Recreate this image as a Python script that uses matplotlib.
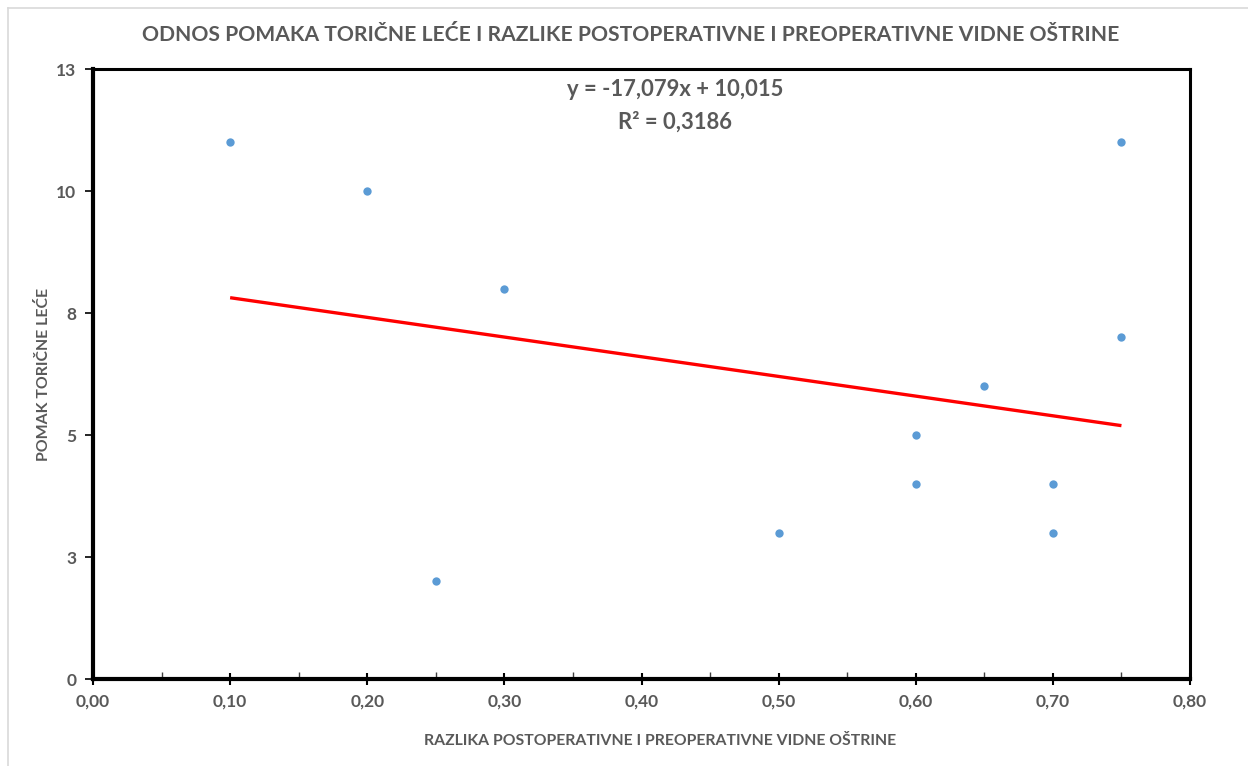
import numpy as np
import matplotlib
matplotlib.use("Agg")
import matplotlib.pyplot as plt
from matplotlib.ticker import MultipleLocator, FuncFormatter
from matplotlib.lines import Line2D
import math

# Data
x_vals = [0.10, 0.20, 0.30, 0.25, 0.50, 0.60, 0.60, 0.65, 0.70, 0.70, 0.75, 0.75]
y_vals = [11, 10, 8, 2, 3, 5, 4, 6, 4, 3, 11, 7]
title = "ODNOS POMAKA TORIČNE LEĆE I RAZLIKE POSTOPERATIVNE I PREOPERATIVNE VIDNE OŠTRINE"
xlabel = "RAZLIKA POSTOPERATIVNE I PREOPERATIVNE VIDNE OŠTRINE"
ylabel = "POMAK TORIČNE LEĆE"
eq_line1 = "y = -17,079x + 10,015"
eq_line2 = "R² = 0,3186"

TXT = "#595959"
plt.rcParams['font.family'] = ['Lato', 'DejaVu Sans']
plt.rcParams['font.weight'] = 'bold'

fig = plt.figure(figsize=(12.48, 7.66), dpi=100)
ax = fig.add_axes([93/1248, 1-679/766, (1190-93)/1248, (679-69)/766])

ax.scatter(x_vals, y_vals, s=36, color="#5B9BD5", zorder=3, linewidths=0)

xa = np.array(x_vals); ya = np.array(y_vals)
m, b = np.polyfit(xa, ya, 1)
xl = np.array([xa.min(), xa.max()])
ax.plot(xl, m*xl + b, color="#FF0000", lw=2.4, zorder=2, solid_capstyle='butt')

ax.set_xlim(0, 0.8)
ax.set_ylim(0, 12.5)
ax.xaxis.set_major_locator(MultipleLocator(0.1))
ax.xaxis.set_minor_locator(MultipleLocator(0.05))
ax.yaxis.set_major_locator(MultipleLocator(2.5))

def yfmt(v, pos):
    return str(int(math.floor(v + 0.5 + 1e-9)))
ax.yaxis.set_major_formatter(FuncFormatter(yfmt))
ax.xaxis.set_major_formatter(FuncFormatter(lambda v, p: f"{v:.2f}".replace('.', ',')))

for s in ['left', 'bottom']:
    ax.spines[s].set_linewidth(3)
    ax.spines[s].set_color('black')
for s in ['top', 'right']:
    ax.spines[s].set_linewidth(2.2)
    ax.spines[s].set_color('black')

ax.tick_params(axis='x', which='major', direction='inout', length=9, width=1.5, color='black',
               labelsize=12.5, labelcolor=TXT, pad=6)
ax.tick_params(axis='x', which='minor', direction='in', length=5, width=1.0, color='#404040')
ax.tick_params(axis='y', which='major', direction='out', length=6, width=1.2, color='black',
               labelsize=12.5, labelcolor=TXT, pad=6)
for lbl in ax.get_xticklabels() + ax.get_yticklabels():
    lbl.set_fontweight('bold')

fig.text(631/1248, 1-35/766, title, ha='center', va='center', fontsize=15.2, color=TXT, fontweight='bold')
fig.text(660/1248, 1-741/766, xlabel, ha='center', va='center', fontsize=11.35, color=TXT, fontweight='bold')
fig.text(44/1248, 1-374/766, ylabel, ha='center', va='center', rotation=90, fontsize=11.4,
         color=TXT, fontweight='bold')
fig.text(675/1248, 1-89/766, eq_line1, ha='center', va='center', fontsize=15.8, color=TXT,
         fontweight='bold')
fig.text(675/1248, 1-122/766, eq_line2, ha='center', va='center', fontsize=15.8, color=TXT,
         fontweight='bold')

# light chart border
fig.add_artist(Line2D([8/1248, 1], [1-8/766, 1-8/766], color="#D9D9D9", lw=1.2, transform=fig.transFigure))
fig.add_artist(Line2D([8/1248, 8/1248], [0, 1-8/766], color="#D9D9D9", lw=1.2, transform=fig.transFigure))

fig.savefig("out.png", dpi=100, facecolor='white')
